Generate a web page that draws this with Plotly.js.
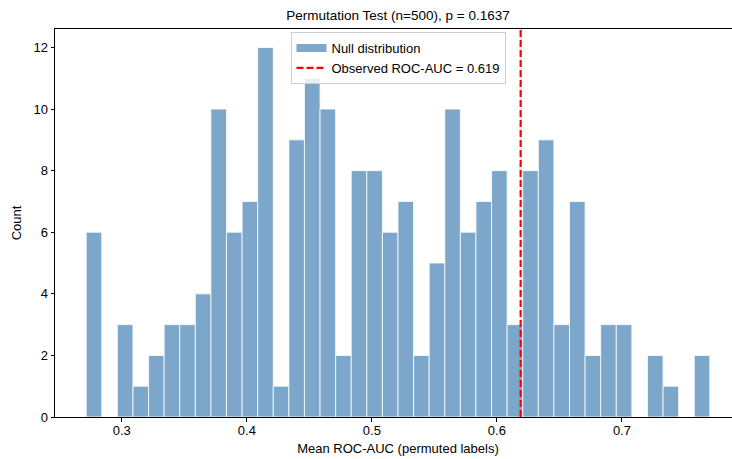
<!DOCTYPE html>
<html>
<head>
<meta charset="utf-8">
<script src="https://cdn.plot.ly/plotly-3.0.1.min.js"></script>
<style>
html,body{margin:0;padding:0;overflow:hidden;background:#fff;}
#chart{width:744px;height:459px;}
</style>
</head>
<body>
<div id="chart"></div>
<script>
// Histogram data
const binStart = 0.2715;
const binWidth = 0.01247;
const counts = [6,0,3,1,2,3,3,4,10,6,7,12,1,9,11,10,2,8,8,6,7,2,5,10,6,7,8,3,8,9,3,7,2,3,3,0,2,1,0,2];
const observed = 0.619;
const xTicks = [0.3,0.4,0.5,0.6,0.7];
const yTicks = [0,2,4,6,8,10,12];
const titleText = "Permutation Test (n=500), p = 0.1637";
const nullName = "Null distribution";
const obsName = "Observed ROC-AUC = " + observed;

const centers = counts.map((c,i)=> binStart + (i+0.5)*binWidth);
const xMin = binStart, xMax = binStart + counts.length*binWidth;
const xPad = (xMax-xMin)*0.05;
const yMax = Math.max(...counts)*1.05;

const fam = "Liberation Sans, Arial, sans-serif";
const f13 = {family:fam, size:13, color:"#000"};
const barColor = "rgba(70,130,180,0.7)";

const traces = [
  {
    type:"bar", x:centers, y:counts, width:binWidth,
    name:nullName, showlegend:false,
    marker:{color:barColor, line:{color:"#ffffff", width:0.8}},
    hoverinfo:"x+y"
  },
  { // legend swatch for the histogram (wide rectangle like the reference)
    type:"scatter", mode:"lines", x:[xMin], y:[-100],
    name:nullName, showlegend:true, hoverinfo:"skip",
    line:{color:"#7ea8cb", width:8}
  },
  {
    type:"scatter", mode:"lines", x:[observed,observed], y:[0,yMax],
    name:obsName,
    line:{color:"#ff0000", width:2.2, dash:"7px,3px"}
  }
];

const layout = {
  width:744, height:459,
  margin:{l:55, r:2.6, t:28.7, b:41.7},
  paper_bgcolor:"#fff", plot_bgcolor:"#fff",
  font:f13,
  bargap:0,
  showlegend:true,
  title:{text:titleText, font:{family:fam, size:13.5, color:"#000"}, x:0.5, xref:"paper", xanchor:"center", y:0.967, yanchor:"middle"},
  xaxis:{
    range:[xMin-xPad, xMax+xPad],
    tickvals:xTicks, ticktext:xTicks.map(v=>v.toFixed(1)),
    ticks:"outside", ticklen:3.5, tickwidth:1, tickcolor:"#000",
    ticklabelstandoff:-2,
    showline:true, linecolor:"#000", linewidth:1, mirror:true,
    showgrid:false, zeroline:false,
    tickfont:f13,
    title:{text:"Mean ROC-AUC (permuted labels)", font:f13, standoff:6}
  },
  yaxis:{
    range:[0,yMax],
    tickvals:yTicks, ticktext:yTicks.map(String),
    ticks:"outside", ticklen:3.5, tickwidth:1, tickcolor:"#000",
    showline:true, linecolor:"#000", linewidth:1, mirror:true,
    showgrid:false, zeroline:false,
    tickfont:f13,
    title:{text:"Count", font:f13, standoff:8}
  },
  legend:{
    x:0.5, xanchor:"center", y:0.992, yanchor:"top",
    bgcolor:"rgba(255,255,255,0.8)", bordercolor:"#cccccc", borderwidth:1,
    font:f13,
    tracegroupgap:0
  }
};

Plotly.newPlot("chart", traces, layout, {displayModeBar:false, staticPlot:true});
</script>
</body>
</html>
